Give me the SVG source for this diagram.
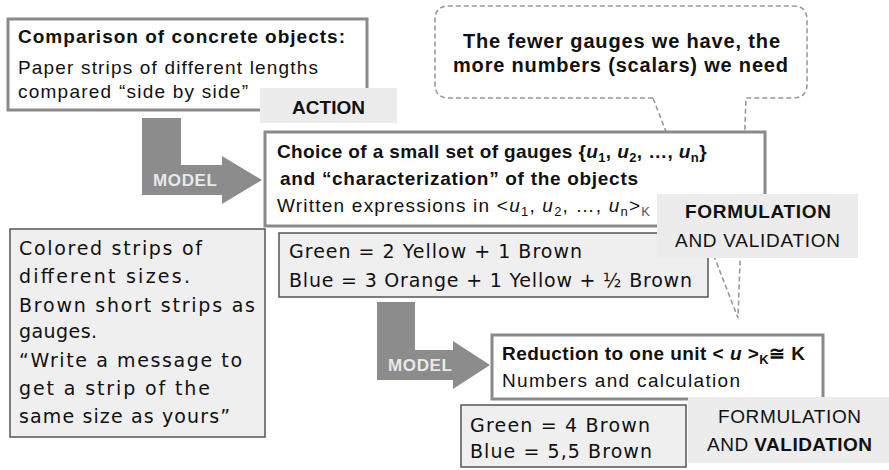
<svg xmlns="http://www.w3.org/2000/svg" width="889" height="470" viewBox="0 0 889 470">
  <style>
    .cal { font-family: "Liberation Sans", Arial, sans-serif; font-size: 19px; fill: #111; }
    .b { font-weight: bold; }
    .comic { font-family: "DejaVu Sans", sans-serif; font-size: 19px; fill: #111; }
    .gothic { font-family: "Liberation Sans", Arial, sans-serif; font-size: 20px; font-weight: bold; fill: #111; }
    .sub { font-size: 13px; }
    .subk { font-size: 13px; fill: #555; }
    .frame { fill: #fff; stroke: #8a8a8a; stroke-width: 3; }
    .note { fill: #efefef; stroke: #555; stroke-width: 1.5; }
    .label { fill: #ececec; stroke: none; }
    .bigarrow { fill: #8c8c8c; }
    .arrowtext { font-family: "Liberation Sans", Arial, sans-serif; font-size: 17px; font-weight: bold; fill: #e8e8e8; }
    .bubble { fill: #fff; stroke: #9a9a9a; stroke-width: 1.6; stroke-dasharray: 5 3; }
  </style>

  <!-- speech bubble with its pointer reaching down to the reduction box -->
  <g id="bubble">
    <path class="bubble" d="M653,98 L449,98 Q435,98 435,84 L435,20 Q435,6 449,6 L793,6 Q807,6 807,20 L807,84 Q807,98 793,98 L746,98 L738,318 Z"/>
    <text class="gothic" x="463" y="48" textLength="317">The fewer gauges we have, the</text>
    <text class="gothic" x="453" y="72" textLength="335">more numbers (scalars) we need</text>
  </g>

  <!-- concrete objects -->
  <g id="concrete">
    <rect class="frame" x="8" y="19" width="359" height="91"/>
    <text class="cal b" x="18" y="43" textLength="327">Comparison of concrete objects:</text>
    <text class="cal" x="18" y="74" textLength="300">Paper strips of different lengths</text>
    <text class="cal" x="18" y="98" textLength="230">compared “side by side”</text>
  </g>

  <g id="action">
    <rect class="label" x="260" y="88" width="137" height="35"/>
    <text class="cal b" x="292" y="114" textLength="73">ACTION</text>
  </g>

  <!-- gauges and characterization -->
  <g id="gauges">
    <rect class="frame" x="265" y="132" width="500" height="94"/>
    <text class="cal b" x="277" y="158" letter-spacing="0.38">Choice of a small set of gauges {<tspan font-style="italic">u</tspan><tspan class="sub" dy="4">1</tspan><tspan dy="-4">, </tspan><tspan font-style="italic">u</tspan><tspan class="sub" dy="4">2</tspan><tspan dy="-4">, …, </tspan><tspan font-style="italic">u</tspan><tspan class="sub" dy="4">n</tspan><tspan dy="-4">}</tspan></text>
    <text class="cal b" x="280" y="185" textLength="358">and “characterization” of the objects</text>
    <text class="cal" x="277" y="212" textLength="373">Written expressions in &lt;<tspan font-style="italic">u</tspan><tspan class="sub" dy="4">1</tspan><tspan dy="-4">, </tspan><tspan font-style="italic">u</tspan><tspan class="sub" dy="4">2</tspan><tspan dy="-4">, …, </tspan><tspan font-style="italic">u</tspan><tspan class="sub" dy="4">n</tspan><tspan dy="-4">&gt;</tspan><tspan class="subk" dy="4">K</tspan></text>
  </g>

  <!-- classroom task -->
  <g id="task">
    <rect class="note" x="10" y="229" width="255" height="208"/>
    <text class="comic" x="19" y="255" textLength="183">Colored strips of</text>
    <text class="comic" x="19" y="283" textLength="171">different sizes.</text>
    <text class="comic" x="19" y="312" textLength="236">Brown short strips as</text>
    <text class="comic" x="19" y="338" textLength="78">gauges.</text>
    <text class="comic" x="19" y="367" textLength="223">“Write a message to</text>
    <text class="comic" x="19" y="395" textLength="191">get a strip of the</text>
    <text class="comic" x="19" y="423" textLength="211">same size as yours”</text>
  </g>

  <g id="expressions">
    <rect class="note" x="279" y="233" width="429" height="64"/>
    <text class="comic" x="289" y="258" textLength="293">Green = 2 Yellow + 1 Brown</text>
    <text class="comic" x="289" y="287" textLength="403">Blue = 3 Orange + 1 Yellow + ½ Brown</text>
  </g>

  <g id="formulation1">
    <rect class="label" x="657" y="194" width="201" height="64"/>
    <text class="cal b" x="685" y="218" textLength="146">FORMULATION</text>
    <text class="cal" x="675" y="247" textLength="165">AND VALIDATION</text>
  </g>

  <!-- MODEL transitions -->
  <g id="connectors">
    <path class="bigarrow" d="M142,118 L181,118 L181,165 L222,165 L222,156 L262,180 L222,204 L222,195 L142,195 Z"/>
    <text class="arrowtext" x="153" y="186" textLength="64">MODEL</text>
    <path class="bigarrow" d="M377,302 L415,302 L415,350 L453,350 L453,341 L490,365 L453,389 L453,380 L377,380 Z"/>
    <text class="arrowtext" x="388" y="371" textLength="64">MODEL</text>
  </g>

  <!-- reduction to one unit -->
  <g id="reduction">
    <rect class="frame" x="492" y="335" width="331" height="64"/>
    <text class="cal b" x="502" y="360" textLength="303">Reduction to one unit &lt; <tspan font-style="italic">u</tspan> &gt;<tspan class="sub" dy="4">K</tspan><tspan dy="-4">≅ K</tspan></text>
    <text class="cal" x="502" y="387" textLength="238">Numbers and calculation</text>
  </g>

  <g id="numbers">
    <rect class="note" x="461" y="405" width="225" height="62"/>
    <text class="comic" x="470" y="432" textLength="180">Green = 4 Brown</text>
    <text class="comic" x="470" y="458" textLength="182">Blue = 5,5 Brown</text>
  </g>

  <g id="formulation2">
    <rect class="label" x="688" y="397" width="201" height="66"/>
    <text class="cal" x="718" y="423" textLength="143">FORMULATION</text>
    <text class="cal" x="707" y="451" textLength="165">AND <tspan class="b">VALIDATION</tspan></text>
  </g>
</svg>
